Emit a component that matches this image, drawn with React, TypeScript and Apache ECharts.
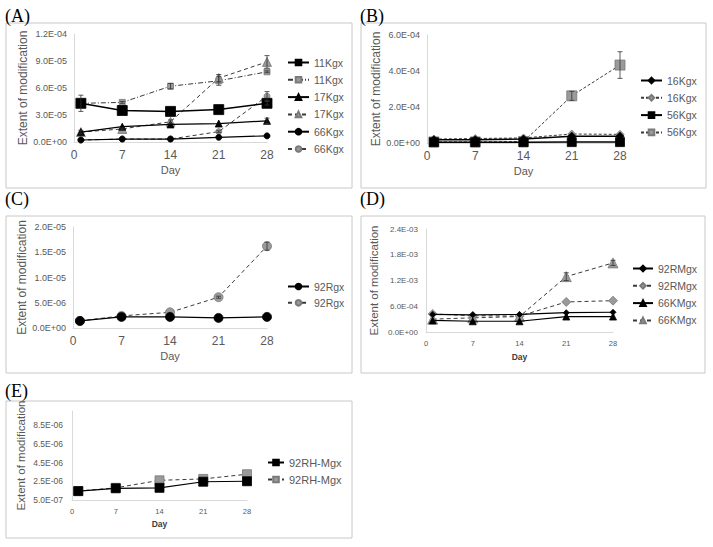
import React, { useEffect, useRef } from "react";
import * as echarts from "echarts";

const days = [1, 7, 14, 21, 28];
const xTicks = [0, 7, 14, 21, 28];

// Panel A
const a11K_s = [4.3e-5, 3.5e-5, 3.4e-5, 3.6e-5, 4.3e-5];
const a11K_s_err = [9e-6, 0, 0, 0, 2e-6];
const a11K_d = [4.3e-5, 4.4e-5, 6.2e-5, 6.8e-5, 7.8e-5];
const a11K_d_err = [0, 1e-6, 3e-6, 5e-6, 1e-6];
const a17K_s = [1.1e-5, 1.7e-5, 1.95e-5, 2.05e-5, 2.35e-5];
const a17K_s_err = [0, 0, 0, 0, 3e-6];
const a17K_d = [1.1e-5, 1.45e-5, 2.25e-5, 7.1e-5, 8.9e-5];
const a17K_d_err = [2e-6, 1e-6, 2e-6, 4e-6, 7e-6];
const a66K_s = [2.2e-6, 3.3e-6, 3.3e-6, 5.2e-6, 6.8e-6];
const a66K_d = [2.2e-6, 3.3e-6, 3.3e-6, 1.15e-5, 5.1e-5];
const a66K_d_err = [0, 0, 0, 1e-6, 5e-6];

// Panel B
const b16K_s = [1.8e-5, 1.8e-5, 2.2e-5, 3.8e-5, 3.8e-5];
const b16K_d = [2.2e-5, 2.5e-5, 2.8e-5, 5.0e-5, 4.8e-5];
const b56K_s = [4e-6, 4e-6, 4e-6, 5e-6, 5e-6];
const b56K_d = [6e-6, 6e-6, 8e-6, 2.62e-4, 4.33e-4];
const b56K_d_err = [0, 0, 0, 2.5e-5, 7.4e-5];

// Panel C
const c92R_s = [1.4e-6, 2.2e-6, 2.2e-6, 2.0e-6, 2.2e-6];
const c92R_d = [1.4e-6, 2.4e-6, 3.1e-6, 6.1e-6, 1.62e-5];
const c92R_d_err = [0, 0, 0, 2e-7, 8e-7];

// Panel D
const d92RM_s = [4.1e-4, 4.0e-4, 4.1e-4, 4.5e-4, 4.6e-4];
const d92RM_d = [4.2e-4, 3.8e-4, 3.7e-4, 7.0e-4, 7.3e-4];
const d66KM_s = [2.7e-4, 2.5e-4, 2.5e-4, 3.6e-4, 3.6e-4];
const d66KM_d = [3.0e-4, 3.3e-4, 3.6e-4, 1.29e-3, 1.61e-3];
const d66KM_d_err = [0, 0, 0, 9e-5, 6e-5];

// Panel E
const e92RH_s = [1.45e-6, 1.75e-6, 1.8e-6, 2.45e-6, 2.5e-6];
const e92RH_d = [1.45e-6, 1.8e-6, 2.6e-6, 2.75e-6, 3.25e-6];
const eTicks = [5e-7, 2.5e-6, 4.5e-6, 6.5e-6, 8.5e-6];

const panelLabels = ["(A)", "(B)", "(C)", "(D)", "(E)"];
const yTitle = "Extent of modification";
const xTitle = "Day";

const SANS = "'Liberation Sans', Arial, sans-serif";
const SERIF = "'Liberation Serif', 'Times New Roman', serif";
const TXT = "#595959";
const AX = "#d9d9d9";

const fmt = (v: number) => {
  const s = Number(v).toExponential(1);
  const [m, e] = s.split("e");
  const n = parseInt(e, 10);
  return m + "E" + (n < 0 ? "-" : "+") + String(Math.abs(n)).padStart(2, "0");
};

type Def = {
  p: number;
  id: string;
  data: number[];
  err?: number[];
  dash: any;
  symbol: string;
  size: number;
  fill: string;
  stroke: string;
  lw: number;
};

const BLK = "#000000";
const GRY = "#9a9a9a";
const DL = "#3a3a3a";

const defs: Def[] = [
  { p: 0, id: "11Kgx#s", data: a11K_s, err: a11K_s_err, dash: "solid", symbol: "rect", size: 10, fill: BLK, stroke: BLK, lw: 1.5 },
  { p: 0, id: "11Kgx#d", data: a11K_d, err: a11K_d_err, dash: [5, 2, 1, 2], symbol: "rect", size: 6, fill: GRY, stroke: DL, lw: 1 },
  { p: 0, id: "17Kgx#s", data: a17K_s, err: a17K_s_err, dash: "solid", symbol: "triangle", size: 7, fill: BLK, stroke: BLK, lw: 1.2 },
  { p: 0, id: "17Kgx#d", data: a17K_d, err: a17K_d_err, dash: [4, 3], symbol: "triangle", size: 9, fill: GRY, stroke: DL, lw: 1 },
  { p: 0, id: "66Kgx#s", data: a66K_s, dash: "solid", symbol: "circle", size: 6, fill: BLK, stroke: BLK, lw: 1.2 },
  { p: 0, id: "66Kgx#d", data: a66K_d, err: a66K_d_err, dash: [4, 3], symbol: "circle", size: 6, fill: GRY, stroke: DL, lw: 1 },
  { p: 1, id: "16Kgx#s", data: b16K_s, dash: "solid", symbol: "diamond", size: 8, fill: BLK, stroke: BLK, lw: 1.5 },
  { p: 1, id: "16Kgx#d", data: b16K_d, dash: [3, 2], symbol: "diamond", size: 8, fill: GRY, stroke: DL, lw: 1 },
  { p: 1, id: "56Kgx#s", data: b56K_s, dash: "solid", symbol: "rect", size: 9, fill: BLK, stroke: BLK, lw: 1.5 },
  { p: 1, id: "56Kgx#d", data: b56K_d, err: b56K_d_err, dash: [3, 2], symbol: "rect", size: 10, fill: GRY, stroke: DL, lw: 1 },
  { p: 2, id: "92Rgx#s", data: c92R_s, dash: "solid", symbol: "circle", size: 9, fill: BLK, stroke: BLK, lw: 1.2 },
  { p: 2, id: "92Rgx#d", data: c92R_d, err: c92R_d_err, dash: [4, 3], symbol: "circle", size: 9, fill: GRY, stroke: DL, lw: 1 },
  { p: 3, id: "92RMgx#s", data: d92RM_s, dash: "solid", symbol: "diamond", size: 6, fill: BLK, stroke: BLK, lw: 1.2 },
  { p: 3, id: "92RMgx#d", data: d92RM_d, dash: [4, 3], symbol: "diamond", size: 9, fill: GRY, stroke: DL, lw: 1 },
  { p: 3, id: "66KMgx#s", data: d66KM_s, dash: "solid", symbol: "triangle", size: 7, fill: BLK, stroke: BLK, lw: 1.2 },
  { p: 3, id: "66KMgx#d", data: d66KM_d, err: d66KM_d_err, dash: [4, 3], symbol: "triangle", size: 10, fill: GRY, stroke: DL, lw: 1 },
  { p: 4, id: "92RH-Mgx#s", data: e92RH_s, dash: "solid", symbol: "rect", size: 9, fill: BLK, stroke: BLK, lw: 1.2 },
  { p: 4, id: "92RH-Mgx#d", data: e92RH_d, dash: [4, 3], symbol: "rect", size: 9, fill: GRY, stroke: DL, lw: 1 },
];

const grids = [
  { left: 74, top: 34, width: 193, height: 108 },
  { left: 427, top: 35, width: 193, height: 108 },
  { left: 73, top: 227, width: 194, height: 101 },
  { left: 426, top: 229, width: 187, height: 103 },
  { left: 72, top: 411, width: 175, height: 89 },
];

const yCfg = [
  { min: 0, max: 1.2e-4, interval: 3e-5, fs: 9, margin: 7, nameGap: 44, nfs: 12 },
  { min: 0, max: 6e-4, interval: 2e-4, fs: 9, margin: 7, nameGap: 44, nfs: 12 },
  { min: 0, max: 2e-5, interval: 5e-6, fs: 9, margin: 7, nameGap: 44, nfs: 12 },
  { min: 0, max: 2.4e-3, interval: 6e-4, fs: 8, margin: 8, nameGap: 46, nfs: 11.5 },
  { min: 5e-7, max: 1.0e-5, interval: undefined as any, fs: 8.5, margin: 9, nameGap: 45, nfs: 11.5 },
];

const xCfg = [
  { fs: 12, nameGap: 22, nfs: 11, bold: false },
  { fs: 12, nameGap: 22, nfs: 11, bold: false },
  { fs: 12, nameGap: 22, nfs: 11, bold: false },
  { fs: 7.5, nameGap: 20, nfs: 8.5, bold: true },
  { fs: 7.5, nameGap: 19, nfs: 8.5, bold: true },
];

const legends = [
  { left: 287, top: 57, itemWidth: 21, itemGap: 6.3, fs: 10.5 },
  { left: 640, top: 75, itemWidth: 21, itemGap: 6.3, fs: 10.5 },
  { left: 287, top: 281, itemWidth: 21, itemGap: 5.3, fs: 10.5 },
  { left: 632, top: 263, itemWidth: 20, itemGap: 6.3, fs: 10.5 },
  { left: 267, top: 457, itemWidth: 16, itemGap: 6, fs: 11 },
];

const boxes = [
  { x: 6, y: 23, w: 346, h: 165 },
  { x: 361, y: 23, w: 345, h: 165 },
  { x: 6, y: 216, w: 346, h: 157 },
  { x: 361, y: 216, w: 344, h: 157 },
  { x: 6, y: 401, w: 346, h: 137 },
];

const labelPos = [
  { x: 5, y: 16 },
  { x: 360, y: 16 },
  { x: 5, y: 199 },
  { x: 360, y: 199 },
  { x: 5, y: 391 },
];

export default function App() {
  const ref = useRef<HTMLDivElement>(null);

  useEffect(() => {
    document.body.style.margin = "0";
    if (!ref.current) return;
    const chart = echarts.init(ref.current, undefined, { renderer: "svg" });

    const series: any[] = [];
    defs.forEach((d) => {
      series.push({
        type: "line",
        name: d.id,
        xAxisIndex: d.p,
        yAxisIndex: d.p,
        data: days.map((x, i) => [x, d.data[i]]),
        symbol: d.symbol,
        symbolSize: d.size,
        showSymbol: true,
        itemStyle: { color: d.fill, borderColor: d.fill === GRY ? "#7a7a7a" : BLK, borderWidth: 0.8 },
        lineStyle: { color: d.stroke, width: d.lw, type: d.dash },
        z: d.fill === BLK ? 3 : 2,
      });
      if (d.err) {
        const errData = days
          .map((x, i) => [x, d.data[i] - d.err![i], d.data[i] + d.err![i], d.err![i]])
          .filter((r) => r[3] > 0);
        series.push({
          type: "custom",
          xAxisIndex: d.p,
          yAxisIndex: d.p,
          encode: { x: 0, y: [1, 2] },
          data: errData,
          z: 4,
          renderItem: (params: any, api: any) => {
            const x = api.value(0);
            const lo = api.coord([x, api.value(1)]);
            const hi = api.coord([x, api.value(2)]);
            const c = 2.5;
            const st = { stroke: "#333", lineWidth: 0.8 };
            return {
              type: "group",
              children: [
                { type: "line", shape: { x1: lo[0], y1: lo[1], x2: hi[0], y2: hi[1] }, style: st },
                { type: "line", shape: { x1: lo[0] - c, y1: lo[1], x2: lo[0] + c, y2: lo[1] }, style: st },
                { type: "line", shape: { x1: hi[0] - c, y1: hi[1], x2: hi[0] + c, y2: hi[1] }, style: st },
              ],
            };
          },
        });
      }
    });

    const option: any = {
      animation: false,
      textStyle: { fontFamily: SANS },
      grid: grids.map((g) => ({ ...g, containLabel: false, outerBoundsMode: "none" })),
      xAxis: grids.map((_, p) => ({
        type: "value",
        gridIndex: p,
        min: xTicks[0],
        max: xTicks[xTicks.length - 1],
        interval: 7,
        axisLine: { show: true, onZero: false, lineStyle: { color: AX, width: 1 } },
        axisTick: { show: false },
        splitLine: { show: false },
        axisLabel: { fontSize: xCfg[p].fs, color: TXT, margin: 7, fontFamily: SANS },
        name: xTitle,
        nameLocation: "middle",
        nameGap: xCfg[p].nameGap,
        nameTextStyle: {
          fontSize: xCfg[p].nfs,
          color: p >= 3 ? "#404040" : TXT,
          fontWeight: xCfg[p].bold ? "bold" : "normal",
          fontFamily: SANS,
        },
      })),
      yAxis: grids.map((_, p) => {
        const y = yCfg[p];
        const ax: any = {
          type: "value",
          gridIndex: p,
          min: y.min,
          max: y.max,
          axisLine: { show: true, lineStyle: { color: AX, width: 1 } },
          axisTick: { show: false },
          splitLine: { show: false },
          axisLabel: { fontSize: y.fs, color: TXT, margin: y.margin, formatter: fmt, fontFamily: SANS },
          name: yTitle,
          nameLocation: "middle",
          nameRotate: 90,
          nameGap: y.nameGap,
          nameTextStyle: { fontSize: y.nfs, color: TXT, fontFamily: SANS },
        };
        if (y.interval !== undefined) {
          ax.interval = y.interval;
        } else {
          ax.axisLabel.customValues = eTicks;
          ax.axisTick.customValues = eTicks;
          ax.splitNumber = 5;
        }
        return ax;
      }),
      legend: legends.map((l, p) => ({
        orient: "vertical",
        left: l.left,
        top: l.top,
        itemWidth: l.itemWidth,
        itemHeight: 7,
        itemGap: l.itemGap,
        padding: 0,
        selectedMode: false,
        data: defs.filter((d) => d.p === p).map((d) => d.id),
        formatter: (n: string) => n.split("#")[0],
        textStyle: { fontSize: l.fs, color: TXT, fontFamily: SANS },
      })),
      graphic: [
        ...boxes.map((b) => ({
          type: "rect",
          shape: { x: b.x, y: b.y, width: b.w, height: b.h },
          style: { fill: "none", stroke: "#c8c8c8", lineWidth: 1 },
          silent: true,
        })),
        ...panelLabels.map((t, i) => ({
          type: "text",
          x: labelPos[i].x,
          y: labelPos[i].y,
          style: {
            text: t,
            fontSize: 18,
            fontFamily: SERIF,
            fill: "#000",
            verticalAlign: "middle",
          },
        })),
      ],
      series,
    };

    chart.setOption(option);
    return () => chart.dispose();
  }, []);

  return <div ref={ref} style={{ width: 713, height: 547, background: "#fff" }} />;
}
